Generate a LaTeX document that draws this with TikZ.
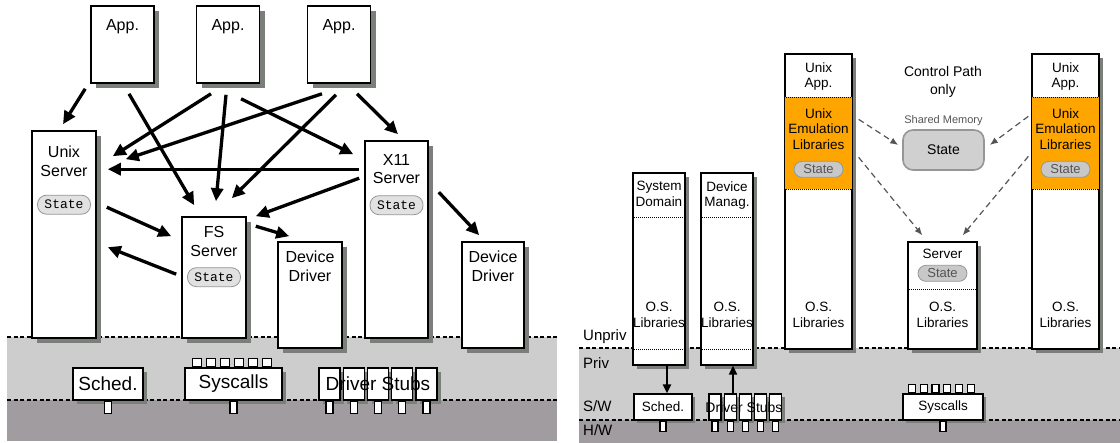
\documentclass[tikz,border=0pt]{standalone}
\usepackage{fontspec}
\setmainfont{Liberation Sans}
\setmonofont{Liberation Mono}
\usetikzlibrary{positioning,calc,arrows.meta,shadows}

\definecolor{shadowgray}{RGB}{122,127,122}
\definecolor{privgray}{RGB}{205,205,205}
\definecolor{hwgray}{RGB}{160,156,160}
\definecolor{pillgray}{RGB}{225,225,225}
\definecolor{pillgrayb}{RGB}{200,200,200}
\definecolor{pilledge}{RGB}{150,150,150}
\definecolor{memgray}{RGB}{208,208,208}
\definecolor{emuorange}{RGB}{255,165,0}
\definecolor{ctrlgray}{RGB}{85,85,85}

\tikzset{
  box/.style={draw, line width=1.6pt, fill=white, inner sep=0pt,
    drop shadow={shadow xshift=5pt, shadow yshift=-5pt, fill=shadowgray, opacity=1}},
  rbox/.style={draw, line width=1.3pt, fill=white, inner sep=0pt,
    drop shadow={shadow xshift=4pt, shadow yshift=-4pt, fill=shadowgray, opacity=1}},
  ltext/.style={inner sep=0pt, align=center, font={\fontsize{16}{18.5}\selectfont}},
  rtext/.style={inner sep=0pt, align=center, font={\fontsize{13.5}{15.5}\selectfont}},
  spill/.style={draw=pilledge, line width=0.8pt, fill=pillgray, rounded corners=9pt,
    minimum width=53pt, minimum height=19pt, inner sep=0pt,
    font={\ttfamily\fontsize{13}{13}\selectfont}},
  rpill/.style={draw=pilledge, line width=0.8pt, fill=pillgrayb, rounded corners=8pt,
    minimum width=49pt, minimum height=16pt, inner sep=0pt, text=ctrlgray,
    font={\fontsize{13}{13}\selectfont}},
  lowbox/.style={draw, line width=1.4pt, fill=white, inner sep=0pt,
    font={\fontsize{19}{19}\selectfont},
    drop shadow={shadow xshift=4pt, shadow yshift=-4pt, fill=shadowgray, opacity=1}},
  rlow/.style={draw, line width=1.2pt, fill=white, inner sep=0pt,
    font={\fontsize{13.5}{13.5}\selectfont},
    drop shadow={shadow xshift=3pt, shadow yshift=-3pt, fill=shadowgray, opacity=1}},
  foot/.style={draw, line width=1.1pt, fill=white, inner sep=0pt},
  lvl/.style={inner sep=0pt, font={\fontsize{15}{15}\selectfont}},
  arr/.style={line width=3.3pt, -{Triangle[length=13pt,width=12pt]}},
  sarr/.style={line width=2pt, -{Triangle[length=9pt,width=8pt]}},
  darr/.style={draw=ctrlgray, line width=1.2pt, dash pattern=on 6pt off 4pt,
    -{Latex[length=8pt,width=6.5pt]}},
  level/.style={line width=1.1pt, dash pattern=on 4pt off 2.5pt},
  sep/.style={line width=1.3pt, dash pattern=on 1pt off 1pt}
}

\begin{document}
\begin{tikzpicture}[x=1pt,y=-1pt]
\useasboundingbox (0,0) rectangle (1120,443);
% protection levels
\fill[privgray] (7,337) rectangle (557,400);
\fill[hwgray] (7,400) rectangle (557,441);
\draw[level] (7,337) -- (557,337);
\draw[level] (7,400) -- (557,400);
\fill[privgray] (579,348) rectangle (1120,420);
\fill[hwgray] (579,420) rectangle (1120,443);
\draw[level] (579,348) -- (1120,348);
\draw[level] (579,420) -- (1120,420);

% ---- left: multi-server system
\node[box, minimum width=63pt, minimum height=77pt] (app1) at (122.5,44.5) {};
\node[box, minimum width=63pt, minimum height=77pt] (app2) at (228,44.5) {};
\node[box, minimum width=63pt, minimum height=77pt] (app3) at (339,44.5) {};
\node[box, minimum width=64pt, minimum height=207pt] (unix) at (64,234.5) {};
\node[box, minimum width=63pt, minimum height=197pt] (x11) at (396.5,239.5) {};
\node[box, minimum width=64pt, minimum height=121pt] (fs) at (214,277.5) {};
\node[box, minimum width=64pt, minimum height=106pt] (dd1) at (310,295) {};
\node[box, minimum width=62pt, minimum height=106pt] (dd2) at (493,295) {};
\foreach \col in {app1,app2,app3}
  \node[ltext, below=14pt of \col.north] (\col-t) {App.};
\node[ltext, below=16pt of unix.north] (unix-t) {Unix\\Server};
\node[ltext, below=14pt of x11.north] (x11-t) {X11\\Server};
\node[ltext, below=10pt of fs.north] (fs-t) {FS\\Server};
\node[ltext, below=10pt of dd1.north] (dd1-t) {Device\\Driver};
\node[ltext, below=10pt of dd2.north] (dd2-t) {Device\\Driver};
\node[spill] (unix-s) at ($(unix.north)+(0,74.5)$) {State};
\node[spill] (x11-s) at ($(x11.north)+(0,65)$) {State};
\node[spill] (fs-s) at ($(fs.north)+(0,61)$) {State};

% kernel, left
\node[lowbox, minimum width=70pt, minimum height=32pt] (schedL) at (108,384) {Sched.};
\node[lowbox, minimum width=97pt, minimum height=32pt] (sysL) at (233.5,384) {Syscalls};
\foreach \i in {0,...,4}
  \node[lowbox, minimum width=21pt, minimum height=32pt] (stubL\i) at (329.5+24.25*\i,384) {};
\node[inner sep=0pt, font={\fontsize{19}{19}\selectfont}] (stubL-t) at (378,384) {Driver Stubs};
\node[foot, minimum width=7pt, minimum height=12pt, below=0pt of schedL.south] (schedL-f) {};
\node[foot, minimum width=7pt, minimum height=12pt, below=0pt of sysL.south] (sysL-f) {};
\foreach \i in {0,...,4}
  \node[foot, minimum width=7pt, minimum height=12pt, below=0pt of stubL\i.south] (stubL\i-f) {};
\foreach \i in {0,...,5}
  \node[foot, minimum width=9pt, minimum height=8pt, anchor=south] (sysL-k\i) at ($(sysL.north west)+(12.5+14*\i,0)$) {};

% calls
\draw[arr] ($(app1.south west)+(-5,5)$) -- ($(unix.north)+(-1,-6)$);
\draw[arr] ($(app1.south)+(6.5,10)$) -- ($(fs.north west)+(13,-11)$);
\draw[arr] ($(app2.south)+(-17,10)$) -- ($(unix.north east)+(16,26)$);
\draw[arr] ($(app2.south)+(-2,11)$) -- ($(fs.north)+(2,-15)$);
\draw[arr] ($(app2.south)+(13,15)$) -- ($(x11.north west)+(-11,14)$);
\draw[arr] ($(app3.south)+(-17,10)$) -- ($(unix.north east)+(29,29)$);
\draw[arr] ($(app3.south)+(-3,11)$) -- ($(fs.north east)+(-15,-18)$);
\draw[arr] ($(app3.south)+(18,10)$) -- ($(x11.north)+(1.5,-6)$);
\draw[arr] ($(x11.north west)+(-5,29)$) -- ($(unix.north east)+(11,39)$);
\draw[arr] ($(x11.north west)+(-5,38)$) -- ($(fs.north east)+(9,0)$);
\draw[arr] ($(unix.north east)+(10,77)$) -- ($(fs.north west)+(-10,20)$);
\draw[arr] ($(fs.north west)+(-5,58)$) -- ($(unix.north east)+(11,117)$);
\draw[arr] ($(fs.north east)+(9,10)$) -- ($(dd1.north west)+(12,-5)$);
\draw[arr] ($(x11.north east)+(10,52)$) -- ($(dd2.north west)+(18,-6)$);

% ---- right: library-based system
\node[rbox, minimum width=67pt, minimum height=295pt] (uapp1) at (818.5,201.5) {};
\node[rbox, minimum width=67pt, minimum height=295pt] (uapp2) at (1065.5,201.5) {};
\node[rbox, minimum width=52pt, minimum height=192pt] (sysdom) at (659,269) {};
\node[rbox, minimum width=52pt, minimum height=192pt] (devman) at (727,269) {};
\node[rbox, minimum width=69pt, minimum height=107pt] (server) at (942.5,295.5) {};
\foreach \col in {uapp1,uapp2} {
  \fill[emuorange] ($(\col.north west)+(0.6,44)$) rectangle ($(\col.north east)+(-0.6,136)$);
  \draw[sep] ($(\col.north west)+(0,44)$) -- ($(\col.north east)+(0,44)$);
  \draw[sep] ($(\col.north west)+(0,136)$) -- ($(\col.north east)+(0,136)$);
  \node[rtext, below=9pt of \col.north] (\col-t) {Unix\\App.};
  \node[rtext, below=55pt of \col.north] (\col-e) {Unix\\Emulation\\Libraries};
  \node[rpill] (\col-s) at ($(\col.north)+(0,116)$) {State};
  \node[rtext, below=249pt of \col.north] (\col-l) {O.S.\\Libraries};
}
\node[rtext, below=9pt of sysdom.north] (sysdom-t) {System\\Domain};
\node[rtext, below=9pt of devman.north] (devman-t) {Device\\Manag.};
\foreach \col in {sysdom,devman} {
  \draw[sep] ($(\col.north west)+(0,45)$) -- ($(\col.north east)+(0,45)$);
  \draw[sep] ($(\col.north west)+(0,177)$) -- ($(\col.north east)+(0,177)$);
  \node[rtext, below=130pt of \col.north] (\col-l) {O.S.\\Libraries};
}
\node[rtext, below=8pt of server.north] (server-t) {Server};
\node[rpill] (server-s) at ($(server.north)+(0,32)$) {State};
\draw[sep] ($(server.north west)+(0,48)$) -- ($(server.north east)+(0,48)$);
\node[rtext, below=61pt of server.north] (server-l) {O.S.\\Libraries};

\node[draw=pilledge, line width=1.6pt, fill=memgray, rounded corners=10pt,
  minimum width=81pt, minimum height=40pt, font={\fontsize{14}{14}\selectfont}] (shmem) at (943.5,150) {State};
\node[inner sep=0pt, text=ctrlgray, font={\fontsize{11}{11}\selectfont}, above=3pt of shmem] (shmem-t) {Shared Memory};
\node[inner sep=0pt, align=center, font={\fontsize{14}{18}\selectfont}, anchor=north] (ctrl) at (943,66) {Control Path\\only};

\draw[darr] ($(uapp1.north east)+(6,66)$) -- ($(shmem.west)+(-4,-5)$);
\draw[darr] ($(uapp2.north west)+(-3,63)$) -- ($(shmem.east)+(5,-5)$);
\draw[darr] ($(uapp1.north east)+(6,104)$) -- ($(server.north west)+(15,-6)$);
\draw[darr] ($(uapp2.north west)+(-3,103)$) -- ($(server.north east)+(-15,-6)$);

% kernel, right
\node[rlow, minimum width=58pt, minimum height=26pt] (schedR) at (663,407) {Sched.};
\foreach \i in {0,...,4}
  \node[rlow, minimum width=12pt, minimum height=26pt] (stubR\i) at (715+15.2*\i,407) {};
\node[inner sep=0pt, font={\fontsize{14}{14}\selectfont}] (stubR-t) at (744,407) {Driver Stubs};
\node[rlow, minimum width=80pt, minimum height=26pt] (sysR) at (943,407) {Syscalls};
\node[foot, minimum width=6pt, minimum height=10pt, below=0pt of schedR.south] (schedR-f) {};
\node[foot, minimum width=6pt, minimum height=10pt, below=0pt of sysR.south] (sysR-f) {};
\foreach \i in {0,...,4}
  \node[foot, minimum width=6pt, minimum height=10pt, below=0pt of stubR\i.south] (stubR\i-f) {};
\foreach \i in {0,...,5}
  \node[foot, minimum width=7pt, minimum height=8pt, anchor=south] (sysR-k\i) at ($(sysR.north west)+(9.5+11.8*\i,0)$) {};

\draw[sarr] ($(sysdom.south)+(8,0)$) -- ($(sysdom.south |- schedR.north)+(8,0)$);
\draw[sarr] ($(devman.south |- stubR1.north)+(6,0)$) -- ($(devman.south)+(6,0)$);

\node[lvl, anchor=base west] (unpriv) at (583,341) {Unpriv};
\node[lvl, anchor=base west] (priv) at (583,369) {Priv};
\node[lvl, anchor=base west] (sw) at (583,412) {S/W};
\node[lvl, anchor=base west] (hw) at (583,436) {H/W};
\end{tikzpicture}
\end{document}
